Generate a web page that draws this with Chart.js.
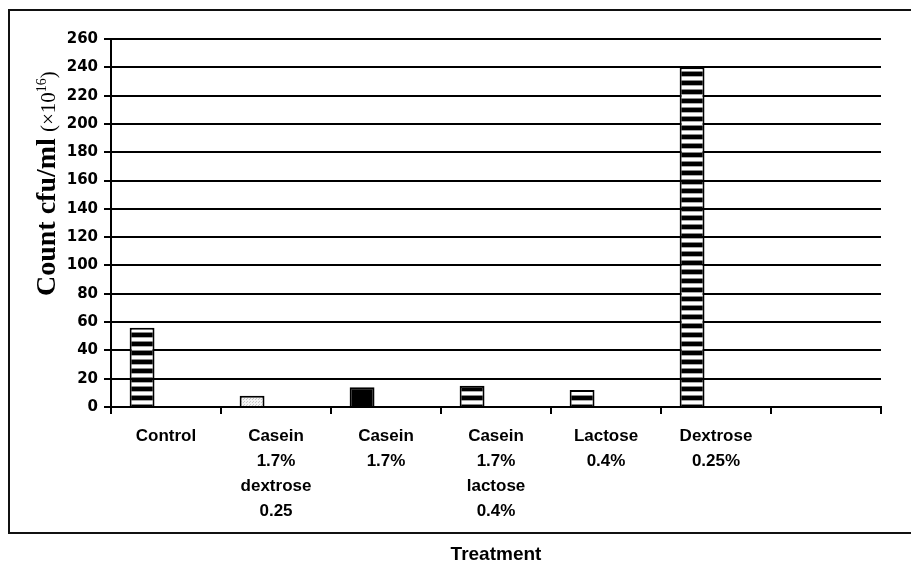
<!DOCTYPE html>
<html>
<head>
<meta charset="utf-8">
<script src="https://cdn.jsdelivr.net/npm/chart.js@4/dist/chart.umd.min.js"></script>
<style>
  html, body { margin: 0; padding: 0; background: #fff; }
  #wrap { width: 911px; height: 567px; }
</style>
</head>
<body>
<div id="wrap"><canvas id="chart" width="911" height="567"></canvas></div>
<script>
// data
const treatments = [
  ["Control"],
  ["Casein", "1.7%", "dextrose", "0.25"],
  ["Casein", "1.7%"],
  ["Casein", "1.7%", "lactose", "0.4%"],
  ["Lactose", "0.4%"],
  ["Dextrose", "0.25%"],
  ""
];
const counts = [56, 8, 14, 15, 12, 240, null];
const emptySeries = [null, null, null, null, null, null, null];
const yTicks = [0, 20, 40, 60, 80, 100, 120, 140, 160, 180, 200, 220, 240, 260];
const xTitle = "Treatment";
const yTitleMain = "Count cfu/ml";
const yTitleUnit = "(×10";
const yTitleExp = "16";

// bar fill patterns
function stripes() {
  const c = document.createElement("canvas");
  c.width = 8; c.height = 9;
  const g = c.getContext("2d");
  g.fillStyle = "#000"; g.fillRect(0, 0, 8, 9);
  g.fillStyle = "#aaa"; g.fillRect(0, 4, 8, 1);
  g.fillStyle = "#fff"; g.fillRect(0, 5, 8, 3);
  g.fillStyle = "#888"; g.fillRect(0, 8, 8, 1);
  return g.createPattern(c, "repeat");
}
function dots() {
  const c = document.createElement("canvas");
  c.width = 3; c.height = 3;
  const g = c.getContext("2d");
  g.fillStyle = "#f4f4f4"; g.fillRect(0, 0, 3, 3);
  g.fillStyle = "#c8c8c8"; g.fillRect(0, 0, 1, 1); g.fillRect(1, 2, 1, 1);
  return g.createPattern(c, "repeat");
}
const striped = stripes();
const dotted = dots();
const fills = [striped, dotted, "#000", striped, striped, striped, "#fff"];

// frame around the plot and the rotated y title
const extras = {
  id: "extras",
  beforeDraw(chart) {
    const ctx = chart.ctx;
    ctx.save();
    ctx.fillStyle = "#fff";
    ctx.fillRect(0, 0, chart.width, chart.height);
    ctx.strokeStyle = "#111";
    ctx.lineWidth = 2;
    ctx.strokeRect(9, 10, 1000, 523);
    ctx.restore();
  },
  afterDraw(chart) {
    const ctx = chart.ctx;
    ctx.save();
    ctx.translate(55, 296);
    ctx.rotate(-Math.PI / 2);
    ctx.fillStyle = "#000";
    ctx.textAlign = "left";
    ctx.textBaseline = "alphabetic";
    ctx.font = "bold 28px 'Liberation Serif'";
    ctx.fillText(yTitleMain, 0, 0);
    let x = ctx.measureText(yTitleMain).width + 6;
    ctx.font = "21px 'Liberation Serif'";
    ctx.fillText(yTitleUnit, x, 0);
    x += ctx.measureText(yTitleUnit).width;
    ctx.font = "14px 'Liberation Serif'";
    ctx.fillText(yTitleExp, x, -9);
    x += ctx.measureText(yTitleExp).width;
    ctx.font = "21px 'Liberation Serif'";
    ctx.fillText(")", x, 0);
    ctx.restore();
  }
};

new Chart(document.getElementById("chart"), {
  type: "bar",
  data: {
    labels: treatments,
    datasets: [
      {
        label: "Count",
        data: counts,
        backgroundColor: fills,
        borderColor: "#000",
        borderWidth: 2,
        categoryPercentage: 0.87,
        barPercentage: 0.52
      },
      {
        label: "",
        data: emptySeries,
        categoryPercentage: 0.87,
        barPercentage: 0.52
      }
    ]
  },
  options: {
    responsive: false,
    animation: false,
    layout: { padding: { left: 0, right: 30, top: 39, bottom: 0 } },
    plugins: { legend: { display: false }, tooltip: { enabled: false } },
    scales: {
      x: {
        afterFit(scale) { scale.height = 160; },
        border: { color: "#000", width: 2 },
        grid: { display: true, offset: true, drawOnChartArea: false, color: "#000", lineWidth: 2, tickLength: 7 },
        ticks: {
          color: "#000",
          padding: 10,
          maxRotation: 0,
          autoSkip: false,
          font: { family: "'Liberation Sans', Arial", size: 17, weight: "bold", lineHeight: 1.47 }
        },
        title: {
          display: true,
          text: xTitle,
          color: "#000",
          padding: { top: 4, bottom: 1 },
          font: { family: "'Liberation Sans', Arial", size: 19, weight: "bold" }
        }
      },
      y: {
        min: 0,
        max: 260,
        afterFit(scale) { scale.width = 111; },
        afterBuildTicks(scale) { scale.ticks = yTicks.map(v => ({ value: v })); },
        border: { color: "#000", width: 2 },
        grid: { color: "#000", lineWidth: 2, tickLength: 7 },
        ticks: {
          color: "#000",
          padding: 6,
          font: { family: "'DejaVu Sans'", size: 15, weight: "bold" }
        }
      }
    }
  },
  plugins: [extras]
});
</script>
</body>
</html>
